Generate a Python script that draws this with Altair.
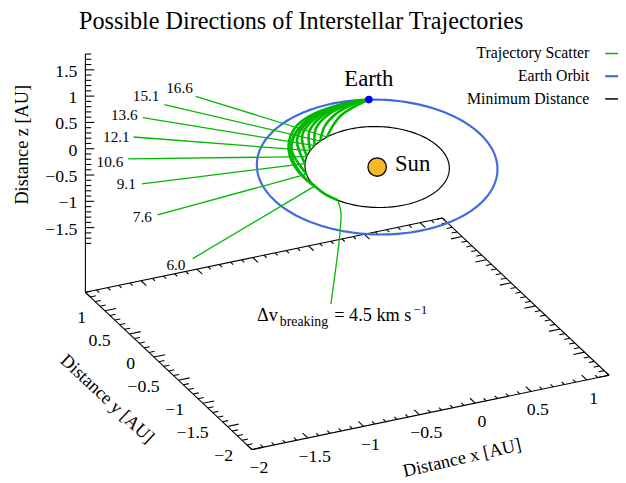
import numpy as np
import pandas as pd
import altair as alt

FONT = "'Liberation Serif', 'Times New Roman', 'DejaVu Serif', serif"
TITLE = "Possible Directions of Interstellar Trajectories"

# ---- 3-D view (orthographic, gnuplot-like) ----
ROT_X = 63.7
ROT_Z = 25.15
SCALE_X, SCALE_Y, SCALE_Z = 124.9, 116.8, 59.45   # px per AU along each axis
X_RANGE = [-2.0, 1.2]
Y_RANGE = [-2.0, 1.4]
Z_RANGE = [-1.8, 1.8]
Z_BASE = -2.73
OBLIQUITY = 23.44          # ecliptic tilt vs. equatorial frame (deg)

# ---- data (ecliptic plane, polar: r [AU], theta [deg]) ----
EARTH_ORBIT_R = 1.0
MIN_DISTANCE_R = 0.6
EARTH_THETA = 72.0

TRAJ_NAMES = ["16.6", "15.1", "13.6", "12.1", "10.6", "9.1", "7.6", "6.0", "4.5"]
ARC_THETA = [
    [72, 80, 90, 100, 112],
    [72, 82, 93, 105, 120],
    [72, 84, 97, 111, 128],
    [72, 85, 100, 116, 136],
    [72, 86, 103, 122, 145],
    [72, 88, 106, 128, 155],
    [72, 90, 112, 138, 170],
    [72, 88, 106, 126, 148, 170, 188],
    [72, 86, 102, 116, 131, 147, 163, 179, 188, 200, 215],
]
ARC_R = [
    [1.0, 0.91, 0.81, 0.70, 0.60],
    [1.0, 0.93, 0.84, 0.73, 0.60],
    [1.0, 0.94, 0.86, 0.75, 0.60],
    [1.0, 0.95, 0.87, 0.76, 0.60],
    [1.0, 0.96, 0.88, 0.77, 0.60],
    [1.0, 0.96, 0.89, 0.77, 0.60],
    [1.0, 0.95, 0.88, 0.76, 0.60],
    [1.0, 0.955, 0.90, 0.82, 0.72, 0.64, 0.60],
    [1.0, 0.965, 0.935, 0.895, 0.82, 0.74, 0.67, 0.62, 0.60, 0.60, 0.60],
]
OUT_THETA = [[112, 124.5], [120, 131.9], [128, 139.1], [136, 147.4], [145, 156.5],
             [155, 167.1], [170, 180.9], [188, 200.6], [215, 224.2, 230.5, 237.4]]
OUT_R = [[0.6, 1.81], [0.6, 1.97], [0.6, 2.06], [0.6, 2.06], [0.6, 2.07],
         [0.6, 1.98], [0.6, 1.98], [0.6, 2.08], [0.6, 0.745, 1.022, 2.08]]
LABEL_R = [1.987, 2.162, 2.215, 2.2, 2.221, 2.11, 2.111, 2.252]
LABEL_THETA = [123.8, 130.7, 139.65, 148.2, 158.0, 166.8, 180.5, 200.1]
DV_LABEL_R, DV_LABEL_THETA = 2.321, 239.2

LEGEND_NAMES = ["Trajectory Scatter", "Earth Orbit", "Minimum Distance"]
GREEN, BLUE, BLACK = "#00b800", "#4169e1", "#000000"
LEGEND_COLORS = [GREEN, BLUE, BLACK]

W, H = 618, 475
H_DOMAIN = [-374, 244]
V_DOMAIN = [-317, 158]


def project(x, y, z):
    rx, rz = np.radians(ROT_X), np.radians(ROT_Z)
    h = SCALE_X * x * np.cos(rz) - SCALE_Y * y * np.sin(rz)
    v = np.cos(rx) * (SCALE_X * x * np.sin(rz) + SCALE_Y * y * np.cos(rz)) + SCALE_Z * z * np.sin(rx)
    return float(h), float(v)


def ecl(r, th):
    t, e = np.radians(th), np.radians(OBLIQUITY)
    X, Y = r * np.cos(t), r * np.sin(t)
    return X, Y * np.cos(e), Y * np.sin(e)


def pe(r, th):
    return project(*ecl(r, th))


def fmt(v):
    s = f"{v:g}"
    return s.replace("-", "\u2212")


X = alt.X("h:Q", scale=alt.Scale(domain=H_DOMAIN, nice=False, zero=False), axis=None)
Y = alt.Y("v:Q", scale=alt.Scale(domain=V_DOMAIN, nice=False, zero=False), axis=None)

# ---- box, axes and ticks ----
segs = []


def seg(p, q):
    h1, v1 = project(*p)
    h2, v2 = project(*q)
    segs.append({"h": h1, "v": v1, "h2": h2, "v2": v2})


x0, x1 = X_RANGE
y0, y1 = Y_RANGE
zb = Z_BASE
seg((x0, y0, zb), (x1, y0, zb))
seg((x1, y0, zb), (x1, y1, zb))
seg((x1, y1, zb), (x0, y1, zb))
seg((x0, y1, zb), (x0, y0, zb))
seg((x0, y1, zb), (x0, y1, Z_RANGE[1]))


def is_major(v):
    return abs(v * 2 - round(v * 2)) < 1e-6


for xv in np.round(np.arange(x0, x1 + 1e-6, 0.1), 2):
    L = 0.105 if is_major(xv) else 0.055
    seg((xv, y0, zb), (xv, y0 + L, zb))
    seg((xv, y1, zb), (xv, y1 - L, zb))
for yv in np.round(np.arange(y0, y1 + 1e-6, 0.1), 2):
    L = 0.10 if is_major(yv) else 0.05
    seg((x0, yv, zb), (x0 + L, yv, zb))
    seg((x1, yv, zb), (x1 - L, yv, zb))
for zv in np.round(np.arange(Z_RANGE[0], Z_RANGE[1] + 1e-6, 0.1), 2):
    h, v = project(x0, y1, zv)
    L = 9 if is_major(zv) else 6
    segs.append({"h": h, "v": v, "h2": h + L, "v2": v})

seg_df = pd.DataFrame(segs)
box = alt.Chart(seg_df).mark_rule(color="black", strokeWidth=1.1).encode(
    x=X, y=Y, x2=alt.X2("h2:Q"), y2=alt.Y2("v2:Q"))

# tick labels
xt = [{"h": project(v, y0, zb)[0], "v": project(v, y0, zb)[1], "label": fmt(v)}
      for v in np.arange(-2.0, 1.01, 0.5)]
yt = [{"h": project(x0, v, zb)[0], "v": project(x0, v, zb)[1], "label": fmt(v)}
      for v in np.arange(-2.0, 1.01, 0.5)]
zt = [{"h": project(x0, y1, v)[0], "v": project(x0, y1, v)[1], "label": fmt(v)}
      for v in np.arange(-1.5, 1.51, 0.5)]
xlab = alt.Chart(pd.DataFrame(xt)).mark_text(font=FONT, fontSize=18, align="center",
                                             baseline="middle", dx=7, dy=19).encode(x=X, y=Y, text="label:N")
ylab = alt.Chart(pd.DataFrame(yt)).mark_text(font=FONT, fontSize=18, align="right",
                                             baseline="middle", dx=-19, dy=7).encode(x=X, y=Y, text="label:N")
zlab = alt.Chart(pd.DataFrame(zt)).mark_text(font=FONT, fontSize=18, align="right",
                                             baseline="middle", dx=-8, dy=2).encode(x=X, y=Y, text="label:N")

# axis titles (anchored near their axes)
hx, vx = project(-0.1, y0, zb)
hy, vy = project(x0, -0.3, zb)
hz, vz = project(x0, y1, 0.0)
titles = [
    ("Distance x [AU]", hx - 2, vx - 53, 347),
    ("Distance y [AU]", hy - 62, vy - 28, 43),
    ("Distance z [AU]", hz - 64, vz + 4, 270),
]
axis_titles = [
    alt.Chart(pd.DataFrame({"h": [h], "v": [v], "label": [t]})).mark_text(
        font=FONT, fontSize=18.5, align="center", baseline="middle", angle=a).encode(x=X, y=Y, text="label:N")
    for t, h, v, a in titles
]

# ---- orbits ----
thetas = np.arange(0, 361, 2)


def orbit_df(r):
    pts = [pe(r, t) for t in thetas]
    return pd.DataFrame({"h": [p[0] for p in pts], "v": [p[1] for p in pts], "i": range(len(pts))})


min_orbit = alt.Chart(orbit_df(MIN_DISTANCE_R)).mark_line(color=BLACK, strokeWidth=1.2).encode(
    x=X, y=Y, order="i:Q")
earth_orbit = alt.Chart(orbit_df(EARTH_ORBIT_R)).mark_line(color=BLUE, strokeWidth=2.2).encode(
    x=X, y=Y, order="i:Q")

# ---- trajectories ----
arc_rows, out_rows = [], []
for name, ths, rs in zip(TRAJ_NAMES, ARC_THETA, ARC_R):
    for i, (t, r) in enumerate(zip(ths, rs)):
        h, v = pe(r, t)
        arc_rows.append({"traj": name, "i": i, "h": h, "v": v})
for name, ths, rs in zip(TRAJ_NAMES, OUT_THETA, OUT_R):
    for i, (t, r) in enumerate(zip(ths, rs)):
        h, v = pe(r, t)
        out_rows.append({"traj": name, "i": i, "h": h, "v": v})

outs = alt.Chart(pd.DataFrame(out_rows)).mark_line(color=GREEN, strokeWidth=1.3,
                                                   interpolate="catmull-rom").encode(
    x=X, y=Y, detail="traj:N", order="i:Q")
arcs = alt.Chart(pd.DataFrame(arc_rows)).mark_line(color=GREEN, strokeWidth=2.6,
                                                   interpolate="catmull-rom").encode(
    x=X, y=Y, detail="traj:N", order="i:Q")

lab_rows = []
for name, r, t in zip(TRAJ_NAMES[:-1], LABEL_R, LABEL_THETA):
    h, v = pe(r, t)
    lab_rows.append({"h": h, "v": v, "label": name})
traj_labels = alt.Chart(pd.DataFrame(lab_rows)).mark_text(
    font=FONT, fontSize=15.5, align="center", baseline="middle").encode(x=X, y=Y, text="label:N")

dh, dv = pe(DV_LABEL_R, DV_LABEL_THETA)
dv_df = pd.DataFrame({"h": [dh], "v": [dv]})
dv_parts = [
    alt.Chart(dv_df).mark_text(text="\u0394v", font=FONT, fontSize=18.5, align="right",
                               baseline="alphabetic", dx=-57).encode(x=X, y=Y),
    alt.Chart(dv_df).mark_text(text="breaking", font=FONT, fontSize=14, align="left",
                               baseline="alphabetic", dx=-55, dy=5).encode(x=X, y=Y),
    alt.Chart(dv_df).mark_text(text="= 4.5 km s", font=FONT, fontSize=18.5, align="left",
                               baseline="alphabetic", dx=0).encode(x=X, y=Y),
    alt.Chart(dv_df).mark_text(text="\u22121", font=FONT, fontSize=12.5, align="left",
                               baseline="alphabetic", dx=81, dy=-7).encode(x=X, y=Y),
]

# ---- Earth and Sun ----
eh, ev = pe(EARTH_ORBIT_R, EARTH_THETA)
earth_df = pd.DataFrame({"h": [eh], "v": [ev]})
sun_df = pd.DataFrame({"h": [project(0, 0, 0)[0]], "v": [project(0, 0, 0)[1]]})
earth_pt = alt.Chart(earth_df).mark_circle(size=60, color="#0000ff", opacity=1).encode(x=X, y=Y)
earth_txt = alt.Chart(earth_df).mark_text(text="Earth", font=FONT, fontSize=23, align="center",
                                          baseline="alphabetic", dy=-14).encode(x=X, y=Y)
sun_pt = alt.Chart(sun_df).mark_circle(size=350, color="#f8b82a", opacity=1, stroke="black",
                                       strokeWidth=1.3).encode(x=X, y=Y)
sun_txt = alt.Chart(sun_df).mark_text(text="Sun", font=FONT, fontSize=23, align="left",
                                      baseline="alphabetic", dx=18, dy=4).encode(x=X, y=Y)

# ---- title and legend ----
one = pd.DataFrame({"a": [0]})
title = alt.Chart(one).mark_text(text=TITLE, font=FONT, fontSize=24.5, align="center",
                                 baseline="alphabetic").encode(x=alt.value(297), y=alt.value(18.5))
legend = []
for k, (name, col) in enumerate(zip(LEGEND_NAMES, LEGEND_COLORS)):
    yk = 43 + 23 * k
    legend.append(alt.Chart(one).mark_text(text=name, font=FONT, fontSize=16, align="right",
                                           baseline="middle").encode(x=alt.value(589), y=alt.value(yk)))
    legend.append(alt.Chart(one).mark_rule(color=col, strokeWidth=1.5 if k != 1 else 2.2).encode(
        x=alt.value(605), x2=alt.value(618), y=alt.value(yk)))

chart = alt.layer(
    box, xlab, ylab, zlab, *axis_titles,
    min_orbit, earth_orbit, outs, arcs, traj_labels, *dv_parts,
    earth_pt, earth_txt, sun_pt, sun_txt, title, *legend,
).properties(width=W, height=H, autosize=alt.AutoSizeParams(type="none"), padding=0,
             background="white").configure_view(strokeWidth=0)

chart.save("out.html", embed_options={"renderer": "svg", "actions": False})
